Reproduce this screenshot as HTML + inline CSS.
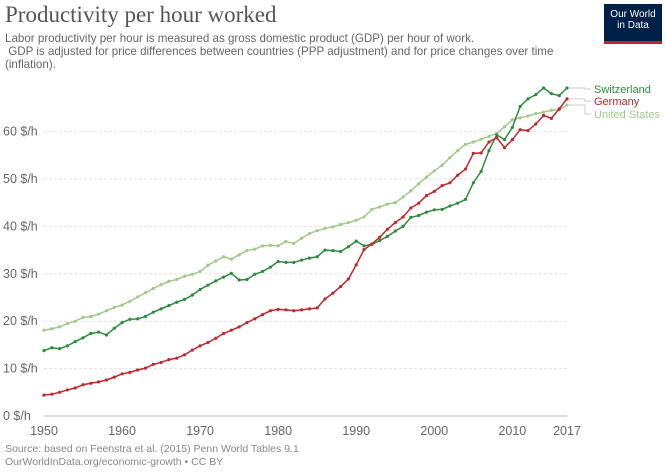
<!DOCTYPE html>
<html><head><meta charset="utf-8">
<style>
body{margin:0;width:665px;height:472px;background:#fff;overflow:hidden;font-family:"Liberation Sans",sans-serif;position:relative}
#title{position:absolute;left:5px;top:2px;font-family:"Liberation Serif",serif;font-size:23px;color:#555}
#sub{position:absolute;left:5px;top:32px;font-size:11.6px;line-height:13px;color:#666;width:590px}
#logo{position:absolute;left:604px;top:4px;width:58px;height:40px;background:#002147;border-bottom:3px solid #c0232c;color:#fff;font-size:10px;line-height:11px;text-align:center;padding-top:5px;box-sizing:border-box}
.foot{position:absolute;left:5px;font-size:10.5px;color:#888}
</style></head><body>
<div id="title">Productivity per hour worked</div>
<div id="sub">Labor productivity per hour is measured as gross domestic product (GDP) per hour of work.<br>&nbsp;GDP is adjusted for price differences between countries (PPP adjustment) and for price changes over time (inflation).</div>
<div id="logo">Our World<br>in Data</div>
<svg id="chart" width="665" height="472" style="position:absolute;left:0;top:0"></svg>
<div class="foot" style="top:443px">Source: based on Feenstra et al. (2015) Penn World Tables 9.1</div>
<div class="foot" style="top:456px">OurWorldInData.org/economic-growth • CC BY</div>
<script>
const years=[];for(let y=1950;y<=2017;y++)years.push(y);
const yTicks=[0,10,20,30,40,50,60];
const xTicks=[1950,1960,1970,1980,1990,2000,2010,2017];
const switzerland=[13.8,14.4,14.2,14.8,15.7,16.5,17.4,17.7,17.1,18.5,19.7,20.4,20.5,21,21.9,22.6,23.3,24,24.6,25.5,26.7,27.6,28.5,29.3,30.1,28.7,28.8,29.9,30.5,31.4,32.6,32.4,32.4,32.9,33.3,33.6,35,34.9,34.7,35.7,36.9,35.9,36.2,37,37.9,39,40,41.9,42.3,43,43.5,43.6,44.3,44.9,45.7,49.2,51.6,56,59.3,58.3,60.9,65.3,66.9,67.8,69.2,68,67.6,69.2];
const germany=[4.4,4.6,5,5.5,5.9,6.6,6.9,7.2,7.6,8.2,8.9,9.2,9.7,10.1,10.9,11.3,11.9,12.2,12.9,13.9,14.8,15.5,16.4,17.4,18.1,18.8,19.7,20.5,21.4,22.2,22.5,22.4,22.2,22.4,22.6,22.8,24.7,25.9,27.3,28.9,31.9,35.1,36.3,37.7,39.4,40.8,42,43.9,44.9,46.5,47.4,48.6,49.2,50.8,52.1,55.4,55.5,57.8,58.7,56.6,58.3,60.4,60.2,61.6,63.4,62.8,64.8,66.9];
const unitedStates=[18.1,18.4,18.8,19.5,20,20.8,21,21.5,22.2,22.9,23.4,24.2,25.1,26,26.9,27.7,28.4,28.8,29.5,29.9,30.5,31.8,32.7,33.6,33.1,34,34.9,35.2,35.9,36,35.9,36.8,36.4,37.5,38.5,39.1,39.6,39.9,40.4,40.8,41.3,42,43.6,44.1,44.7,45,46.2,47.5,49,50.4,51.7,52.9,54.5,56,57.3,57.8,58.4,59,59.6,61,62.5,62.9,63.3,63.8,64.1,64.5,64.6,65.6];
const seriesNames=["Switzerland","Germany","United States"];
const NS="http://www.w3.org/2000/svg",svg=document.getElementById('chart');
const X0=44,X1=567,Y0=416,PPU=4.74;
const xs=y=>X0+(y-1950)*(X1-X0)/(2017-1950);
const ys=v=>Y0-v*PPU;
function mk(t,a){const e=document.createElementNS(NS,t);for(const k in a)e.setAttribute(k,a[k]);svg.appendChild(e);return e;}
yTicks.forEach(t=>{
 const g=mk('line',{x1:X0,x2:X1,y1:ys(t),y2:ys(t),stroke:t?'#e4e4e4':'#bbb','stroke-dasharray':t?'3,2':'none'});
 
 
 const l=mk('text',{x:3,y:ys(t)+4,'font-size':12.5,fill:'#666'});l.textContent=t+' $/h';
 
 
});
xTicks.forEach(t=>{
 const l=mk('text',{x:xs(t),y:435,'font-size':12.5,fill:'#666','text-anchor':'middle'});l.textContent=t;
 
 
});
const data=[switzerland,germany,unitedStates],cols=['#2e8b3e','#c1272d','#a3c98a'];
const labY=[93,105,118];
[2,0,1].forEach(i=>{
 const pts=years.map((y,j)=>xs(y)+','+ys(data[i][j])).join(' ');
 const p=mk('polyline',{points:pts,fill:'none',stroke:cols[i],'stroke-width':1.5});
 
 
 years.forEach((y,j)=>{const c=mk('circle',{cx:xs(y),cy:ys(data[i][j]),r:1.6,fill:cols[i]});
  
  });
 const ly=ys(data[i][67]);
 const c=mk('polyline',{points:`${X1+2},${ly} ${X1+18},${ly} ${X1+18},${labY[i]-4} ${X1+24},${labY[i]-4}`,fill:'none',stroke:'#ccc'});
 
 
 const t=mk('text',{x:594,y:labY[i],'font-size':11,fill:cols[i]});t.textContent=seriesNames[i];
 
 
});
</script>
</body></html>
